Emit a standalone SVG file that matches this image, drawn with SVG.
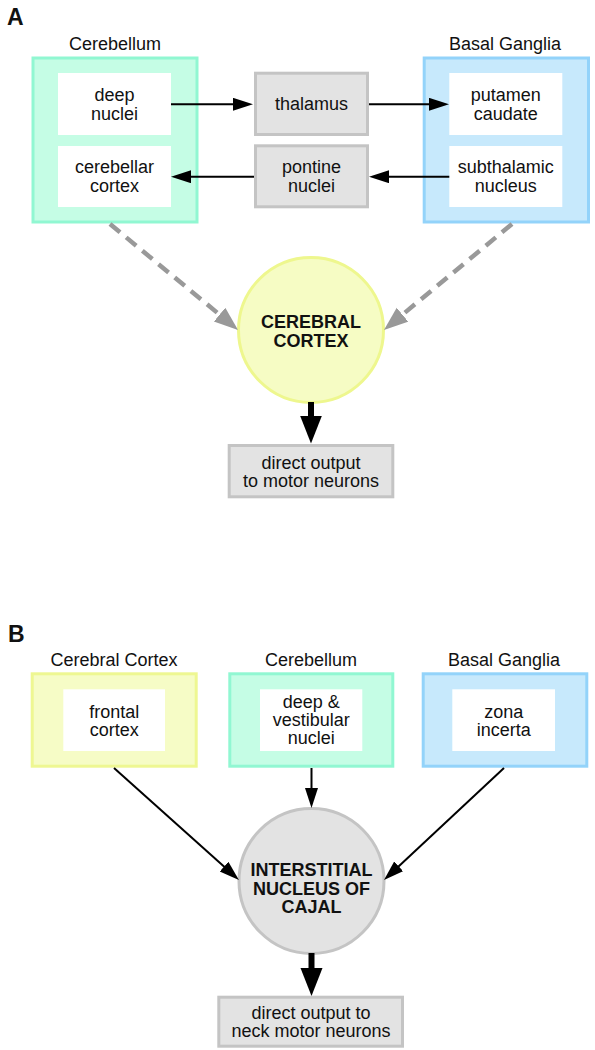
<svg xmlns="http://www.w3.org/2000/svg" width="595" height="1050" viewBox="0 0 595 1050">
<style>
text{font-family:"Liberation Sans",Arial,Helvetica,sans-serif;font-size:18px;fill:#111;text-anchor:middle}
.lbl{font-weight:bold;font-size:23px;text-anchor:start}
.bold{font-weight:bold}
.cb{fill:#c5fde5;stroke:#91f7d2;stroke-width:3}
.bg{fill:#c7e9fc;stroke:#93d3fa;stroke-width:3}
.cc{fill:#f6fcc6;stroke:#eef792;stroke-width:3}
.gr{fill:#e3e3e3;stroke:#c4c4c4;stroke-width:3}
.wh{fill:#fff}
.thin{stroke:#000;stroke-width:2;fill:none;marker-end:url(#ah)}
.thick{stroke:#000;stroke-width:6;fill:none;marker-end:url(#ahb)}
.dash{stroke:#999;stroke-width:4.5;fill:none;stroke-dasharray:13 8;marker-end:url(#ahg)}
</style>
<defs>
<marker id="ah" markerUnits="userSpaceOnUse" markerWidth="20" markerHeight="14" refX="10" refY="6.5" orient="auto"><path d="M0,0L20,6.5L0,13z" fill="#000"/></marker>
<marker id="ahb" markerUnits="userSpaceOnUse" markerWidth="28" markerHeight="23" refX="14" refY="11" orient="auto"><path d="M0,0L28,11L0,22z" fill="#000"/></marker>
<marker id="ahg" markerUnits="userSpaceOnUse" markerWidth="24" markerHeight="19" refX="12" refY="9" orient="auto"><path d="M0,0L24,9L0,18z" fill="#999"/></marker>
</defs>

<text class="lbl" x="7" y="25">A</text>

<g id="cerebellumA">
<text x="115" y="50">Cerebellum</text>
<rect class="cb" x="33" y="58" width="164" height="164"/>
</g>
<g id="deepNuclei">
<rect class="wh" x="58" y="73" width="113" height="62"/>
<text x="114.5" y="100.5">deep</text>
<text x="114.5" y="119.5">nuclei</text>
</g>
<g id="cerebellarCortex">
<rect class="wh" x="58" y="146" width="113" height="61"/>
<text x="114.5" y="173">cerebellar</text>
<text x="114.5" y="191.5">cortex</text>
</g>
<g id="thalamus">
<rect class="gr" x="255.5" y="73.2" width="112" height="61.3"/>
<text x="311.5" y="110">thalamus</text>
</g>
<g id="pontine">
<rect class="gr" x="255.5" y="145.8" width="112" height="61"/>
<text x="311.5" y="173">pontine</text>
<text x="311.5" y="191.5">nuclei</text>
</g>
<g id="basalGangliaA">
<text x="505" y="50">Basal Ganglia</text>
<rect class="bg" x="424.2" y="58" width="164.3" height="164"/>
</g>
<g id="putamen">
<rect class="wh" x="449.3" y="73" width="113" height="62"/>
<text x="505.8" y="100.5">putamen</text>
<text x="505.8" y="119.5">caudate</text>
</g>
<g id="subthalamic">
<rect class="wh" x="449.3" y="146" width="113" height="61"/>
<text x="505.8" y="173">subthalamic</text>
<text x="505.8" y="191.5">nucleus</text>
</g>
<g id="cerebralCortexA">
<circle cx="311" cy="330" r="72.5" fill="#f6fcc4" stroke="#eef78e" stroke-width="3"/>
<text class="bold" x="311" y="328">CEREBRAL</text>
<text class="bold" x="311" y="346.5">CORTEX</text>
</g>
<g id="outputA">
<rect class="gr" x="229.2" y="445.5" width="163.6" height="51.3"/>
<text x="311" y="468.5">direct output</text>
<text x="311" y="486.5">to motor neurons</text>
</g>

<text class="lbl" x="8" y="642">B</text>

<g id="cerebralCortexB">
<text x="114" y="666">Cerebral Cortex</text>
<rect class="cc" x="32.2" y="673.8" width="164" height="92.4"/>
</g>
<g id="frontal">
<rect class="wh" x="63.3" y="689.3" width="101.7" height="61.7"/>
<text x="114.2" y="717.5">frontal</text>
<text x="114.2" y="736">cortex</text>
</g>
<g id="cerebellumB">
<text x="311" y="666">Cerebellum</text>
<rect class="cb" x="229.8" y="673.8" width="163" height="92.4"/>
</g>
<g id="deepVest">
<rect class="wh" x="260" y="689.3" width="102.3" height="61.7"/>
<text x="311.2" y="708.3">deep &amp;</text>
<text x="311.2" y="726.3">vestibular</text>
<text x="311.2" y="744.3">nuclei</text>
</g>
<g id="basalGangliaB">
<text x="504" y="666">Basal Ganglia</text>
<rect class="bg" x="423.2" y="673.8" width="163.6" height="92.4"/>
</g>
<g id="zona">
<rect class="wh" x="452.3" y="689.3" width="102.7" height="61.7"/>
<text x="503.7" y="717.5">zona</text>
<text x="503.7" y="736">incerta</text>
</g>
<g id="inc">
<circle cx="311.5" cy="881" r="72.5" fill="#e3e3e3" stroke="#c4c4c4" stroke-width="3"/>
<text class="bold" x="311.5" y="876">INTERSTITIAL</text>
<text class="bold" x="311.5" y="894.5">NUCLEUS OF</text>
<text class="bold" x="311.5" y="913">CAJAL</text>
</g>
<g id="outputB">
<rect class="gr" x="218.8" y="997.2" width="183.7" height="49"/>
<text x="311" y="1019">direct output to</text>
<text x="311" y="1037">neck motor neurons</text>
</g>

<g id="connectors">
<line class="thin" x1="171" y1="104.3" x2="243" y2="104.3"/>
<line class="thin" x1="369" y1="104.3" x2="439" y2="104.3"/>
<line class="thin" x1="449.3" y1="176.7" x2="379" y2="176.7"/>
<line class="thin" x1="254" y1="176.7" x2="181" y2="176.7"/>
<line class="dash" x1="110" y1="224" x2="228.8" y2="322.3"/>
<line class="dash" x1="512" y1="224" x2="393.2" y2="322.3"/>
<line class="thick" x1="311" y1="402" x2="311" y2="429.5"/>
<line class="thin" x1="114" y1="768" x2="231.5" y2="873.3"/>
<line class="thin" x1="311.5" y1="768" x2="311.5" y2="798"/>
<line class="thin" x1="504" y1="768" x2="391.3" y2="873.2"/>
<line class="thick" x1="311.5" y1="953" x2="311.5" y2="982"/>
</g>
</svg>
